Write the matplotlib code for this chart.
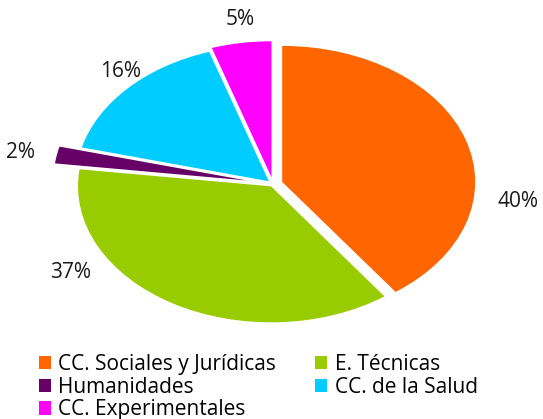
import matplotlib
matplotlib.use('Agg')
import matplotlib.pyplot as plt
from matplotlib.patches import Patch

categories = ['CC. Sociales y Jurídicas', 'E. Técnicas', 'Humanidades',
              'CC. de la Salud', 'CC. Experimentales']
values = [40, 37, 2, 16, 5]
colors = ['#FF6600', '#99CC00', '#660066', '#00CCFF', '#FF00FF']
explode = [0.05, 0.02, 0.14, 0.03, 0.05]
# label placement in data units (pie radius = 1)
label_pos = [(1.27, -0.13), (-1.05, -0.65), (-1.31, 0.23), (-0.79, 0.83), (-0.17, 1.21)]

plt.rcParams['font.family'] = ['Open Sans', 'DejaVu Sans']

fig = plt.figure(figsize=(5.43, 4.19), dpi=100)
ax = fig.add_axes([0, 0, 1, 1])
wedges, _ = ax.pie(values, colors=colors, explode=explode, startangle=90,
                   counterclock=False, wedgeprops=dict(linewidth=0))
ax.set_aspect('auto')

# ellipse: 193 px wide radius, 136 px tall radius, center at (273, 184) from top
cx, cy, rx, ry = 273, 184, 193, 136
ax.set_xlim(-cx / rx, (543 - cx) / rx)
ax.set_ylim(-(419 - cy) / ry, cy / ry)
ax.axis('off')

for v, (x, y) in zip(values, label_pos):
    ax.text(x, y, f'{v}%', ha='center', va='center', fontsize=15, color='#1a1a1a')

# legend filled row by row as in the original
order = [0, 2, 4, 1, 3]
handles = [Patch(facecolor=colors[i], edgecolor='none') for i in order]
labels = [categories[i] for i in order]
fig.legend(handles, labels, loc='upper left', bbox_to_anchor=(0.052, 0.18),
           ncol=2, frameon=False, fontsize=15, handlelength=0.6, handleheight=0.6,
           handletextpad=0.35, columnspacing=1.85, labelspacing=0.08, borderpad=0)

fig.savefig('out.png', dpi=100)
